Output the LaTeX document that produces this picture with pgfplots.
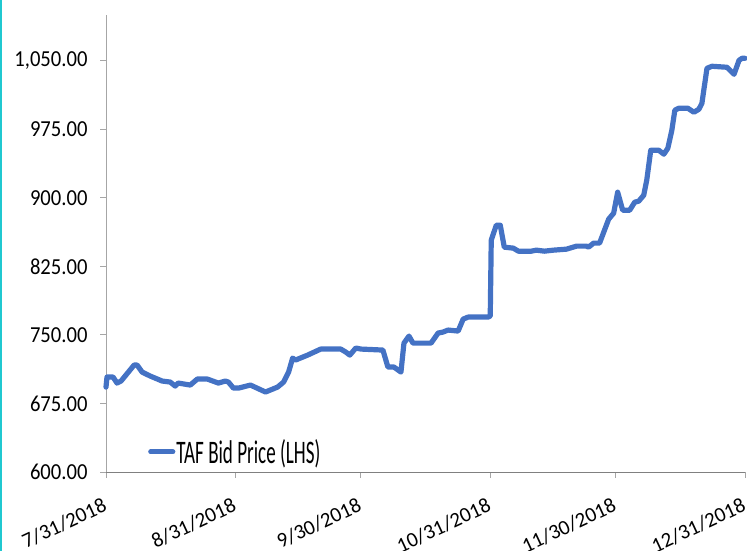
\documentclass[border=0pt]{standalone}
\usepackage{fontspec}
\setmainfont{Carlito}
\usepackage{graphicx}
\usepackage{pgfplots}
\pgfplotsset{compat=1.18}
\definecolor{linec}{RGB}{68,114,196}
\definecolor{edgec}{RGB}{32,200,208}
\begin{document}
\begin{tikzpicture}[x=1bp,y=1bp]
\useasboundingbox (0,0) rectangle (747,551);
\fill[edgec] (0,0) rectangle (2.2,551);
\begin{axis}[
  at={(106bp,79bp)}, anchor=origin,
  scale only axis, width=639bp, height=457bp,
  xmin=0, xmax=153, ymin=600, ymax=1100,
  axis x line=bottom, axis y line=left,
  axis line style={-, draw=black!35, line width=0.9bp},
  x axis line style={draw=black!50},
  xtick={0,31,61,92,122,153},
  xticklabels={7/31/2018,8/31/2018,9/30/2018,10/31/2018,11/30/2018,12/31/2018},
  ytick={600,675,750,825,900,975,1050},
  tick align=outside, major tick length=6bp,
  tick style={draw=black!35, line width=0.9bp},
  minor tick num=0,
  /pgf/number format/fixed, /pgf/number format/fixed zerofill, /pgf/number format/precision=2,
  /pgf/number format/1000 sep={,}, /pgf/number format/assume math mode=true,
  yticklabel={\scalebox{0.9}[1]{\pgfmathprintnumber{\tick}}},
  yticklabel style={font=\fontsize{23}{27}\selectfont, text=black, xshift=-9bp},
  xticklabel style={font=\fontsize{21}{25}\selectfont, text=black, xshift=-4bp, yshift=-19bp, rotate=25, anchor=north east, inner sep=0pt},
  legend style={at={(0.066,0.044)}, anchor=west, draw=none, fill=none, inner sep=0pt, outer sep=0pt,
    font=\fontsize{33}{36}\selectfont, /tikz/every even column/.append style={column sep=0pt},
    nodes={inner xsep=1bp}},
  legend cell align=left,
  legend image code/.code={\draw[#1, line cap=round] (0bp,0bp) -- (22bp,0bp);},
  clip=false,
]
\addplot[linec, line width=5.2bp, line join=round, line cap=round] coordinates {
(0,692.9) (0.24,703.9) (1.68,703.9) (2.64,697.3) (3.60,699.5) (6.73,717.0) (7.45,717.0)
(8.65,709.3) (10.57,705.0) (13.45,699.5) (15.37,698.4) (16.57,694.0) (17.30,697.3)
(20.18,695.1) (21.86,701.7) (24.26,701.7) (26.90,697.3) (28.59,699.5) (29.31,698.4)
(30.51,691.8) (31.71,691.8) (34.59,695.1) (38.19,687.5) (41.08,692.9) (42.52,698.4)
(43.72,709.3) (44.68,724.6) (45.40,722.5) (48.28,727.9) (51.41,734.5) (56.21,734.5)
(57.41,731.2) (58.37,727.9) (59.81,735.6) (61.01,734.5) (66.30,733.4) (67.50,714.8)
(68.94,714.8) (70.62,709.3) (71.34,741.0) (72.54,748.7) (73.50,741.0) (77.83,741.0)
(79.51,752.0) (80.71,753.1) (81.91,755.3) (84.31,754.2) (85.52,767.3) (86.72,769.5)
(91.52,769.5) (92.0,770.6) (92.24,853.6) (93.44,870.0) (94.40,870.0) (95.36,846.0)
(97.53,844.9) (98.73,841.6) (101.85,841.6) (103.05,842.7) (104.97,841.6) (107.13,842.7)
(110.25,843.8) (112.66,847.1) (115.06,847.1) (115.54,846.0) (116.74,850.4) (118.18,850.4)
(120.35,876.6) (121.55,883.2) (122.51,906.1) (123.71,886.4) (125.39,886.4) (126.59,895.2)
(127.55,896.3) (128.75,902.8) (129.47,919.2) (130.43,952.0) (132.36,952.0) (133.56,947.7)
(134.52,954.2) (135.48,973.9) (136.20,995.8) (137.16,998.0) (139.32,998.0) (140.76,993.6)
(141.96,996.9) (142.68,1003.4) (143.89,1041.7) (145.09,1043.9) (148.69,1042.8)
(150.37,1035.1) (151.57,1050.4) (152.29,1052.6) (153,1052.6)
};
\addlegendentry{\scalebox{0.58}[1]{TAF Bid Price (LHS)}}
\end{axis}
\end{tikzpicture}
\end{document}
